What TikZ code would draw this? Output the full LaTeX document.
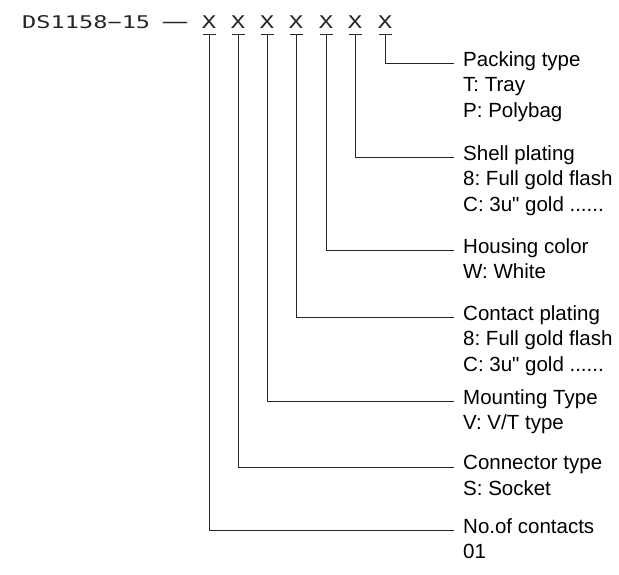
\documentclass[tikz,border=0pt]{standalone}
\usepackage{fontspec}
\usepackage{graphicx}
\setmainfont{Liberation Sans}[Ligatures=TeXOff]
\newfontfamily\cadfont{DejaVu Sans Mono}
\usetikzlibrary{positioning, calc}
\newcommand{\cadtext}[1]{\scalebox{1.35}[1]{\cadfont #1}}
\frenchspacing
\tikzstyle{code} = [inner sep=0pt, text=black!85, font=\fontsize{17.5}{20}\selectfont]
\tikzstyle{lbl} = [inner sep=0pt, align=left, anchor=north west, font=\fontsize{20.5}{25.5}\selectfont, execute at begin node=\strut]
\tikzstyle{lead} = [line width=0.9pt, draw=black!85]

\begin{document}
\begin{tikzpicture}[x=1pt, y=-1pt]
    \useasboundingbox (0,0) rectangle (619,574);

    % Part number
    \node (part) [code, anchor=base west] at (22,28) {\cadtext{DS1158−15}};
    \node (dash) [code, anchor=base] at (175,28) {\scalebox{2}[1]{\cadtext{−}}};

    % Code positions, with bar and start point of each lead
    \foreach \i/\x in {1/209, 2/238, 3/267, 4/296, 5/326, 6/355, 7/385} {
        \node (x\i) [code, anchor=base] at (\x,28) {\cadtext{X}};
        \draw [lead] (\x-6.5,34) -- (\x+6.5,34);
        \coordinate (b\i) at (\x,34);
    }

    % End points of leads
    \coordinate (e1) at (454,530);
    \coordinate (e2) at (454,467);
    \coordinate (e3) at (454,401);
    \coordinate (e4) at (454,317);
    \coordinate (e5) at (454,250);
    \coordinate (e6) at (454,157);
    \coordinate (e7) at (454,63);

    % Descriptions (first line level with the lead)
    \node (contacts) [lbl] at ($(e1)+(9,-12)$) {No.of contacts\\01};
    \node (conntype) [lbl] at ($(e2)+(9,-12)$) {Connector type\\S: Socket};
    \node (mounting) [lbl] at ($(e3)+(9,-12)$) {Mounting Type\\V: V/T type};
    \node (contplat) [lbl] at ($(e4)+(9,-12)$) {Contact plating\\8: Full gold flash\\C: 3u" gold ......};
    \node (housing) [lbl] at ($(e5)+(9,-12)$) {Housing color\\W: White};
    \node (shell) [lbl] at ($(e6)+(9,-12)$) {Shell plating\\8: Full gold flash\\C: 3u" gold ......};
    \node (packing) [lbl] at ($(e7)+(9,-12)$) {Packing type\\T: Tray\\P: Polybag};

    % Leads
    \foreach \i in {1,...,7}
        \draw [lead] (b\i) |- (e\i);

\end{tikzpicture}
\end{document}
